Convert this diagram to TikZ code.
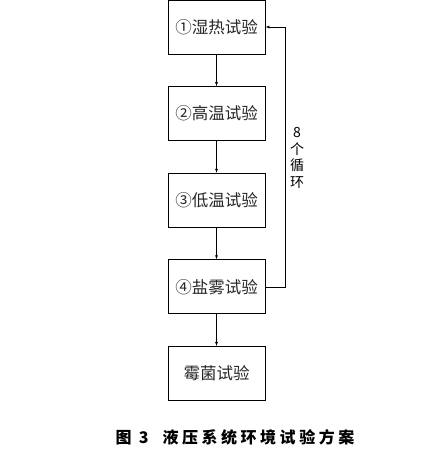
\documentclass[tikz,border=0pt]{standalone}
\usepackage{fontspec}
\setmainfont{Noto Sans CJK SC}
\newfontfamily\capfont[LetterSpace=22]{Noto Sans CJK SC}
\usetikzlibrary{positioning}
\usetikzlibrary{arrows}

\begin{document}
\begin{tikzpicture}[>=latex,node distance=86.6pt,on grid,auto, testbox/.style={rectangle,draw,line width=0.9pt,minimum width=97pt,minimum height=54pt,inner sep=0pt,font=\fontsize{16.5pt}{17pt}\selectfont,text=black!85}, ]
	\useasboundingbox (0,0) rectangle (444pt,-453pt);

	\node[testbox] (s1) at (216.5pt,-27pt) {①湿热试验};
	\node[testbox, below = of s1] (s2) {②高温试验};
	\node[testbox, below = of s2] (s3) {③低温试验};
	\node[testbox, below = of s3] (s4) {④盐雾试验};
	\node[testbox, below = of s4] (s5) {霉菌试验};
	\coordinate[right = 68.5pt of s4] (back);

	\draw[->] (s1) to[] (s2);
	\draw[->] (s2) to[] (s3);
	\draw[->] (s3) to[] (s4);
	\draw[->] (s4) to[] (s5);
	\draw[->] (s4.east) -- (back) |- (s1.east);

	\node[align=center,font=\fontsize{14pt}{16.5pt}\selectfont] (loop) at (297pt,-158pt) {8\\个\\循\\环};
	\node[font=\capfont\bfseries\fontsize{16pt}{17pt}\selectfont] (cap) at (235pt,-437pt) {图 3\hspace{14pt}液压系统环境试验方案};

\end{tikzpicture}
\end{document}
